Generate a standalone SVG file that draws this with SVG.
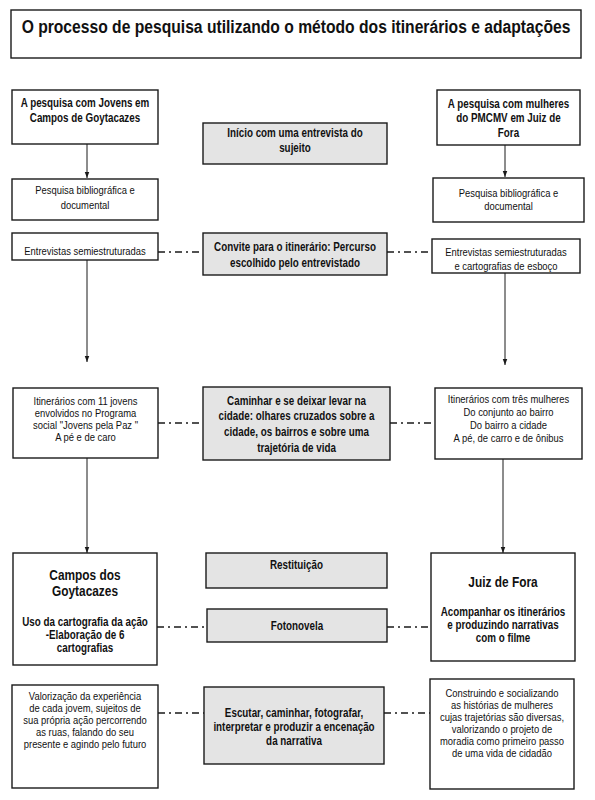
<svg xmlns="http://www.w3.org/2000/svg" width="595" height="800" viewBox="0 0 595 800">
<style>
  .box { fill: #ffffff; stroke: #1a1a1a; stroke-width: 1.4; }
  .gbox { fill: #e4e4e4; stroke: #1a1a1a; stroke-width: 1.4; }
  text { font-family: "Liberation Sans", Arial, sans-serif; fill: #111; text-anchor: middle; }
  .n { font-size: 11.5px; }
  .b { font-size: 12px; font-weight: bold; }
  .big { font-size: 14.5px; font-weight: bold; }
  .title { font-size: 18px; font-weight: bold; }
  .arrow { stroke: #1a1a1a; stroke-width: 1; fill: none; marker-end: url(#ah); }
  .dd { stroke: #1a1a1a; stroke-width: 1.3; fill: none; stroke-dasharray: 7 4 2 4; }
</style>
<defs>
  <marker id="ah" viewBox="0 0 8 8" refX="8" refY="4" markerWidth="6" markerHeight="6" markerUnits="userSpaceOnUse" orient="auto">
    <path d="M0,1 L8,4 L0,7 z" fill="#1a1a1a"/>
  </marker>
</defs>
<rect width="595" height="800" fill="#ffffff"/>

<g id="title">
  <rect class="box" x="11" y="10" width="570" height="48"/>
  <g transform="translate(296 0) scale(0.87 1)">
    <text class="title" x="0" y="33">O processo de pesquisa utilizando o método dos itinerários e adaptações</text>
  </g>
</g>

<g id="connectors">
  <line class="arrow" x1="87" y1="144" x2="87" y2="178"/>
  <line class="arrow" x1="505" y1="145" x2="505" y2="177"/>
  <line class="arrow" x1="87" y1="260" x2="87" y2="362"/>
  <line class="arrow" x1="505" y1="273" x2="505" y2="365"/>
  <line class="arrow" x1="87" y1="458" x2="87" y2="553"/>
  <line class="arrow" x1="503" y1="459" x2="503" y2="553"/>
  <line class="dd" x1="158" y1="252" x2="203" y2="252"/>
  <line class="dd" x1="387" y1="252" x2="432" y2="252"/>
  <line class="dd" x1="158" y1="423" x2="203" y2="423"/>
  <line class="dd" x1="390" y1="423" x2="435" y2="423"/>
  <line class="dd" x1="157" y1="627" x2="207" y2="627"/>
  <line class="dd" x1="387" y1="627" x2="431" y2="627"/>
  <line class="dd" x1="158" y1="713" x2="204" y2="713"/>
  <line class="dd" x1="384" y1="713" x2="430" y2="713"/>
</g>

<g id="L1">
  <rect class="box" x="12" y="90" width="146" height="54"/>
  <g transform="translate(85 0) scale(0.82 1)">
    <text class="b" x="0" y="107">A pesquisa com Jovens em</text>
    <text class="b" x="0" y="122">Campos de Goytacazes</text>
  </g>
</g>
<g id="L2">
  <rect class="box" x="12" y="179" width="146" height="41"/>
  <g transform="translate(85 0) scale(0.82 1)">
    <text class="n" x="0" y="194">Pesquisa bibliográfica e</text>
    <text class="n" x="0" y="209">documental</text>
  </g>
</g>
<g id="L3">
  <rect class="box" x="12" y="233" width="146" height="27"/>
  <g transform="translate(85 0) scale(0.82 1)">
    <text class="n" x="0" y="255">Entrevistas semiestruturadas</text>
  </g>
</g>
<g id="L4">
  <rect class="box" x="13" y="388" width="145" height="70"/>
  <g transform="translate(85.5 0) scale(0.82 1)">
    <text class="n" x="0" y="405.5">Itinerários com 11 jovens</text>
    <text class="n" x="0" y="417.5">envolvidos no Programa</text>
    <text class="n" x="0" y="429.5">social "Jovens pela Paz "</text>
    <text class="n" x="0" y="441.5">A pé e de caro</text>
  </g>
</g>
<g id="L5">
  <rect class="box" x="13" y="553" width="144" height="112"/>
  <g transform="translate(85 0) scale(0.82 1)">
    <text class="big" x="0" y="580">Campos dos</text>
    <text class="big" x="0" y="596">Goytacazes</text>
    <text class="b" x="0" y="626">Uso da cartografia da ação</text>
    <text class="b" x="0" y="639">-Elaboração de 6</text>
    <text class="b" x="0" y="652">cartografias</text>
  </g>
</g>
<g id="L6">
  <rect class="box" x="12" y="685" width="146" height="103"/>
  <g transform="translate(85 0) scale(0.82 1)">
    <text class="n" x="0" y="700.5">Valorização da experiência</text>
    <text class="n" x="0" y="712.5">de cada jovem, sujeitos de</text>
    <text class="n" x="0" y="724.5">sua própria ação percorrendo</text>
    <text class="n" x="0" y="736.5">as ruas, falando do seu</text>
    <text class="n" x="0" y="748.5">presente e agindo pelo futuro</text>
  </g>
</g>

<g id="M1">
  <rect class="gbox" x="203" y="123" width="184" height="41"/>
  <g transform="translate(295 0) scale(0.82 1)">
    <text class="b" x="0" y="137">Início com uma entrevista do</text>
    <text class="b" x="0" y="152">sujeito</text>
  </g>
</g>
<g id="M2">
  <rect class="gbox" x="203" y="233" width="184" height="42"/>
  <g transform="translate(295 0) scale(0.82 1)">
    <text class="b" x="0" y="251">Convite para o itinerário: Percurso</text>
    <text class="b" x="0" y="267">escolhido pelo entrevistado</text>
  </g>
</g>
<g id="M3">
  <rect class="gbox" x="203" y="387" width="187" height="73"/>
  <g transform="translate(296.5 0) scale(0.82 1)">
    <text class="b" x="0" y="405">Caminhar e se deixar levar na</text>
    <text class="b" x="0" y="420.5">cidade: olhares cruzados sobre a</text>
    <text class="b" x="0" y="436.5">cidade, os bairros e sobre uma</text>
    <text class="b" x="0" y="452">trajetória de vida</text>
  </g>
</g>
<g id="M4">
  <rect class="gbox" x="206" y="553" width="181" height="35"/>
  <g transform="translate(296.5 0) scale(0.82 1)">
    <text class="b" x="0" y="569">Restituição</text>
  </g>
</g>
<g id="M5">
  <rect class="gbox" x="207" y="609" width="180" height="33"/>
  <g transform="translate(297 0) scale(0.82 1)">
    <text class="b" x="0" y="630">Fotonovela</text>
  </g>
</g>
<g id="M6">
  <rect class="gbox" x="204" y="687" width="180" height="77"/>
  <g transform="translate(294 0) scale(0.82 1)">
    <text class="b" x="0" y="717">Escutar, caminhar, fotografar,</text>
    <text class="b" x="0" y="731">interpretar e produzir a encenação</text>
    <text class="b" x="0" y="745">da narrativa</text>
  </g>
</g>

<g id="R1">
  <rect class="box" x="437" y="90" width="143" height="55"/>
  <g transform="translate(508.5 0) scale(0.82 1)">
    <text class="b" x="0" y="108">A pesquisa com mulheres</text>
    <text class="b" x="0" y="122.5">do PMCMV em Juiz de</text>
    <text class="b" x="0" y="137">Fora</text>
  </g>
</g>
<g id="R2">
  <rect class="box" x="433" y="178" width="151" height="44"/>
  <g transform="translate(508.5 0) scale(0.82 1)">
    <text class="n" x="0" y="197">Pesquisa bibliográfica e</text>
    <text class="n" x="0" y="210">documental</text>
  </g>
</g>
<g id="R3">
  <rect class="box" x="432" y="239" width="148" height="34"/>
  <g transform="translate(506 0) scale(0.82 1)">
    <text class="n" x="0" y="256.5">Entrevistas semiestruturadas</text>
    <text class="n" x="0" y="270">e cartografias de esboço</text>
  </g>
</g>
<g id="R4">
  <rect class="box" x="435" y="388" width="147" height="71"/>
  <g transform="translate(508.5 0) scale(0.82 1)">
    <text class="n" x="0" y="403.5">Itinerários com três mulheres</text>
    <text class="n" x="0" y="416.5">Do conjunto ao bairro</text>
    <text class="n" x="0" y="429.5">Do bairro a cidade</text>
    <text class="n" x="0" y="442.5">A pé, de carro e de ônibus</text>
  </g>
</g>
<g id="R5">
  <rect class="box" x="431" y="553" width="144" height="108"/>
  <g transform="translate(503 0) scale(0.82 1)">
    <text class="big" x="0" y="587">Juiz de Fora</text>
    <text class="b" x="0" y="616">Acompanhar os itinerários</text>
    <text class="b" x="0" y="629">e produzindo narrativas</text>
    <text class="b" x="0" y="642.5">com o filme</text>
  </g>
</g>
<g id="R6">
  <rect class="box" x="430" y="679" width="144" height="110"/>
  <g transform="translate(502 0) scale(0.82 1)">
    <text class="n" x="0" y="697">Construindo e socializando</text>
    <text class="n" x="0" y="709">as histórias de mulheres</text>
    <text class="n" x="0" y="721">cujas trajetórias são diversas,</text>
    <text class="n" x="0" y="733">valorizando o projeto de</text>
    <text class="n" x="0" y="745">moradia como primeiro passo</text>
    <text class="n" x="0" y="757">de uma vida de cidadão</text>
  </g>
</g>
</svg>
